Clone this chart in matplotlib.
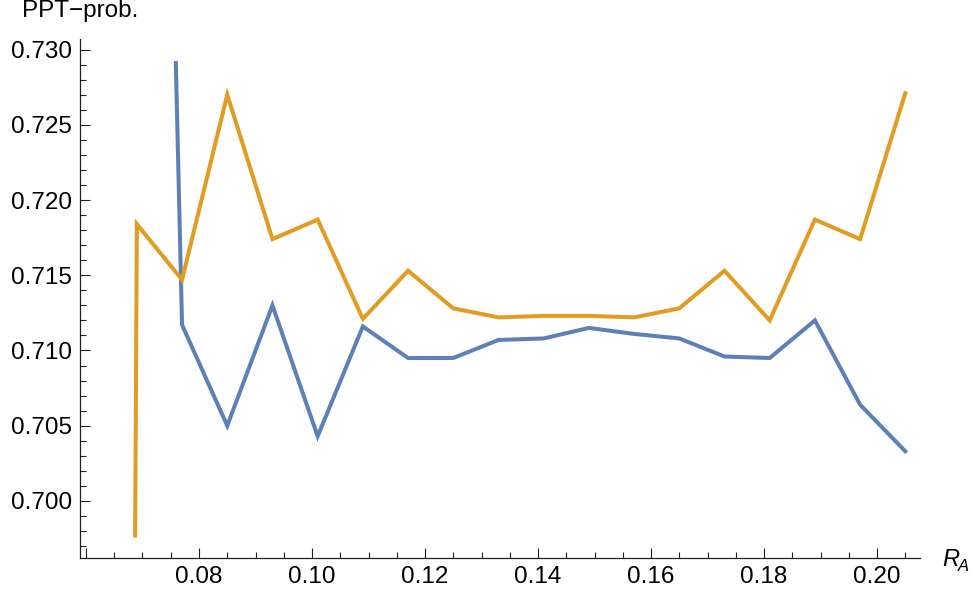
import matplotlib
matplotlib.use("Agg")
import matplotlib.pyplot as plt
from matplotlib.ticker import MultipleLocator, FuncFormatter

plt.rcParams['font.family'] = ['Liberation Sans', 'DejaVu Sans']

# Data
x_orange = [0.0687, 0.0690, 0.077, 0.085, 0.093, 0.101, 0.109, 0.117, 0.125, 0.133,
            0.141, 0.149, 0.157, 0.165, 0.173, 0.181, 0.189, 0.197, 0.205]
y_orange = [0.6977, 0.7184, 0.7147, 0.7270, 0.7174, 0.7187, 0.7121, 0.7153, 0.7128, 0.7122,
            0.7123, 0.7123, 0.7122, 0.7128, 0.7153, 0.7120, 0.7187, 0.7174, 0.7271]

x_blue = [0.0759, 0.077, 0.085, 0.093, 0.101, 0.109, 0.117, 0.125, 0.133,
          0.141, 0.149, 0.157, 0.165, 0.173, 0.181, 0.189, 0.197, 0.205]
y_blue = [0.7291, 0.7117, 0.7050, 0.7130, 0.7043, 0.7116, 0.7095, 0.7095, 0.7107,
          0.7108, 0.7115, 0.7111, 0.7108, 0.7096, 0.7095, 0.7120, 0.7064, 0.7033]

x_major = [0.06, 0.08, 0.10, 0.12, 0.14, 0.16, 0.18, 0.20]
y_major = [0.700, 0.705, 0.710, 0.715, 0.720, 0.725, 0.730]

W, H = 974, 596
fig = plt.figure(figsize=(W / 100, H / 100), dpi=100)
ax = fig.add_axes([80 / W, 1 - 557.7 / H, (920 - 80) / W, (557.7 - 39) / H])

ax.plot(x_blue, y_blue, color='#5E81B5', lw=2.9, solid_joinstyle='miter', clip_on=False)
ax.plot(x_orange, y_orange, color='#E19C24', lw=2.9, solid_joinstyle='miter', clip_on=False)

ax.set_xlim(0.05894, 0.2076)
ax.set_ylim(0.69623, 0.7307)

for s in ['top', 'right']:
    ax.spines[s].set_visible(False)
for s in ['left', 'bottom']:
    ax.spines[s].set_linewidth(0.9)
    ax.spines[s].set_color('#222222')

ax.set_xticks(x_major)
ax.xaxis.set_major_formatter(FuncFormatter(lambda v, p: '' if abs(v - 0.06) < 1e-9 else f'{v:.2f}'))
ax.xaxis.set_minor_locator(MultipleLocator(0.005))
ax.set_yticks(y_major)
ax.yaxis.set_major_formatter(FuncFormatter(lambda v, p: f'{v:.3f}'))
ax.yaxis.set_minor_locator(MultipleLocator(0.001))

ax.tick_params(which='major', direction='in', length=7, width=0.8, color='#222222',
               labelsize=17.5, pad=5.5)
ax.tick_params(which='minor', direction='in', length=4, width=0.8, color='#222222')
ax.tick_params(axis='x', which='major', pad=6)

fig.text(80 / W, 1 - 17.5 / H, 'PPT\u2212prob.', ha='center', va='baseline', fontsize=17.5)
fig.text(942 / W, 1 - 566 / H, 'R', ha='left', va='baseline', fontsize=17, style='italic')
fig.text(958 / W, 1 - 571 / H, 'A', ha='left', va='baseline', fontsize=12, style='italic')

fig.savefig('out.png', dpi=100)
